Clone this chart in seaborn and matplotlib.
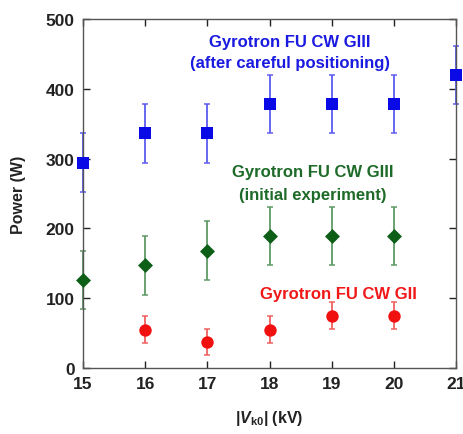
import numpy as np
import pandas as pd
import matplotlib
matplotlib.use("Agg")
import matplotlib.pyplot as plt
import seaborn as sns

# Output power vs. cathode voltage for the FU CW gyrotrons
v_gii = [16, 17, 18, 19, 20]
p_gii = [55, 37, 55, 75, 75]
e_gii = [19, 19, 19, 19, 19]

v_giii_init = [15, 16, 17, 18, 19, 20]
p_giii_init = [126, 147, 168, 189, 189, 189]
e_giii_init = [42, 42, 42, 42, 42, 42]

v_giii_pos = [15, 16, 17, 18, 19, 20, 21]
p_giii_pos = [294, 336, 336, 378, 378, 378, 420]
e_giii_pos = [42, 42, 42, 42, 42, 42, 42]

x_ticks = [15, 16, 17, 18, 19, 20, 21]
y_ticks = [0, 100, 200, 300, 400, 500]

sns.set_theme(style="ticks")
plt.rcParams["font.family"] = ["Liberation Sans", "DejaVu Sans"]
plt.rcParams["font.weight"] = "bold"
plt.rcParams["mathtext.fontset"] = "custom"
plt.rcParams["mathtext.rm"] = "Liberation Sans:bold"
plt.rcParams["mathtext.it"] = "Liberation Sans:italic:bold"
plt.rcParams["mathtext.bf"] = "Liberation Sans:bold"

fig = plt.figure(figsize=(4.64, 4.35), dpi=100)
ax = fig.add_axes([0.179, 0.152, 0.804, 0.802])

series = [
    ("Gyrotron FU CW GIII (after careful positioning)", v_giii_pos, p_giii_pos, e_giii_pos,
     "#0a0ae6", "#5c5cf0", "s", 72),
    ("Gyrotron FU CW GIII (initial experiment)", v_giii_init, p_giii_init, e_giii_init,
     "#0d5e16", "#5f9a66", "D", 58),
    ("Gyrotron FU CW GII", v_gii, p_gii, e_gii,
     "#f01010", "#f06060", "o", 80),
]

frames = []
for name, v, p, e, *_ in series:
    frames.append(pd.DataFrame({"V": v, "P": p, "err": e, "series": name}))
df = pd.concat(frames, ignore_index=True)

for name, v, p, e, c, ec, m, s in series:
    sub = df[df["series"] == name]
    ax.errorbar(sub["V"], sub["P"], yerr=sub["err"], fmt="none", ecolor=ec,
                elinewidth=1.3, capsize=2.5, capthick=1.1, clip_on=False, zorder=2)
    sns.scatterplot(data=sub, x="V", y="P", marker=m, s=s, color=c,
                    edgecolor=c, linewidth=0, ax=ax, clip_on=False, zorder=3,
                    legend=False)

ax.set_xlim(15, 21)
ax.set_ylim(0, 500)
ax.set_xticks(x_ticks)
ax.set_yticks(y_ticks)
ax.tick_params(direction="in", length=5, width=1, top=True, right=True,
               labelsize=12.5, colors="#222222", pad=6)
for lab in ax.get_xticklabels() + ax.get_yticklabels():
    lab.set_fontweight("bold")
for sp in ax.spines.values():
    sp.set_color("#555555")
    sp.set_linewidth(1.0)

ax.set_xlabel(r"|$V_{\mathrm{k0}}$| (kV)", fontsize=11.5, fontweight="bold",
              labelpad=12, color="#222222")
ax.set_ylabel("Power (W)", fontsize=11.5, fontweight="bold", labelpad=14,
              color="#222222")

fs = 12
ax.text(18.33, 468, "Gyrotron FU CW GIII", color="#1a1ae0", fontsize=fs,
        fontweight="bold", ha="center", va="center")
ax.text(18.33, 437, "(after careful positioning)", color="#1a1ae0", fontsize=fs,
        fontweight="bold", ha="center", va="center")
ax.text(18.7, 282, "Gyrotron FU CW GIII", color="#1e6a28", fontsize=fs,
        fontweight="bold", ha="center", va="center")
ax.text(18.7, 249, "(initial experiment)", color="#1e6a28", fontsize=fs,
        fontweight="bold", ha="center", va="center")
ax.text(19.1, 106, "Gyrotron FU CW GII", color="#f01818", fontsize=fs,
        fontweight="bold", ha="center", va="center")

fig.savefig("out.png", dpi=100, facecolor="white")
